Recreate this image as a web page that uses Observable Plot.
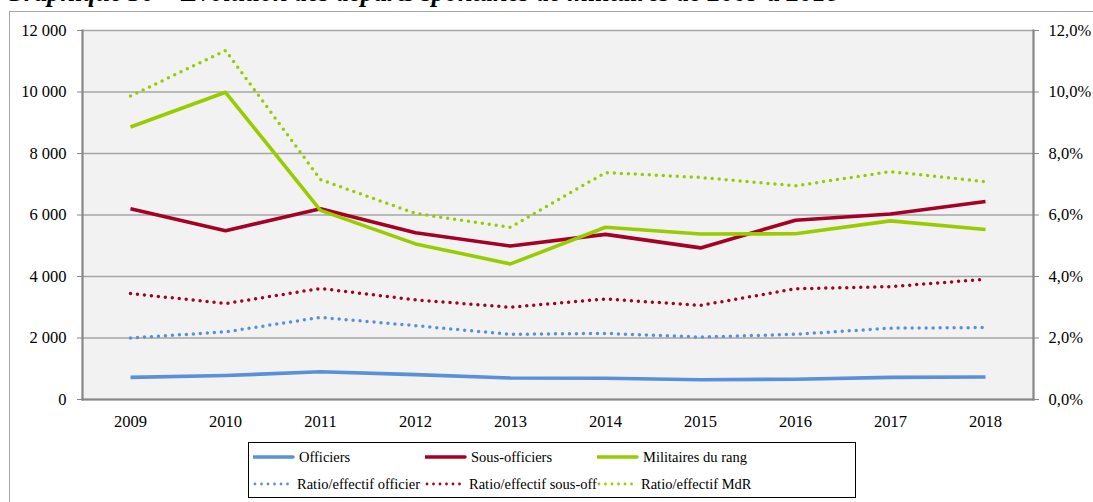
<!DOCTYPE html>
<html>
<head>
<meta charset="utf-8">
<script src="https://cdn.jsdelivr.net/npm/d3@7"></script>
<script src="https://cdn.jsdelivr.net/npm/@observablehq/plot@0.6"></script>
<style>
  html, body { margin: 0; padding: 0; background: #fff; overflow: hidden; }
  #wrap { position: relative; width: 1093px; height: 502px; overflow: hidden; font-family: "Liberation Serif", "Times New Roman", serif; }
  #outer { position: absolute; left: 9px; top: 11px; width: 1200px; height: 600px; border-left: 1.5px solid #a6a6a6; border-top: 1.5px solid #a6a6a6; }
  #title { position: absolute; left: 5px; top: -20px; font-size: 26.3px; font-weight: bold; font-style: italic; white-space: nowrap; line-height: 26px; z-index: 3; }
  #chart { position: absolute; left: 0; top: 0; z-index: 1; }
  #chart svg text { font-family: "Liberation Serif", "Times New Roman", serif; }
  #legend { position: absolute; left: 248px; top: 442px; width: 606px; height: 54px; border: 1px solid #000; background: #fff; z-index: 2; font-size: 14.5px; font-family: "Liberation Serif", "Times New Roman", serif; }
  .item { position: absolute; display: flex; align-items: center; white-space: nowrap; }
  .item svg { margin-right: 4px; }
</style>
</head>
<body>
<div id="wrap">
  <div id="outer"></div>
  <div id="title">Graphique 30 – Évolution des départs spontanés de militaires de 2009 à 2018</div>
  <div id="chart"></div>
  <div id="legend"></div>
</div>
<script>
const years = ["2009","2010","2011","2012","2013","2014","2015","2016","2017","2018"];
const officiers      = [720, 780, 900, 810, 700, 690, 640, 660, 720, 730];
const sousOfficiers  = [6200, 5490, 6200, 5420, 4990, 5370, 4930, 5830, 6030, 6440];
const militairesRang = [8860, 9990, 6150, 5060, 4410, 5600, 5380, 5390, 5810, 5530];
const ratioOfficier  = [2.00, 2.20, 2.67, 2.40, 2.12, 2.15, 2.03, 2.12, 2.32, 2.34];
const ratioSousOff   = [3.45, 3.12, 3.61, 3.24, 3.00, 3.27, 3.06, 3.60, 3.67, 3.91];
const ratioMdR       = [9.87, 11.35, 7.15, 6.05, 5.60, 7.38, 7.22, 6.95, 7.41, 7.08];
const leftTicks = [0, 2000, 4000, 6000, 8000, 10000, 12000];
const rightTicks = [0, 2, 4, 6, 8, 10, 12];

const series = [
  {name: "Officiers", values: officiers, color: "#5891d9", dotted: false, ratio: false},
  {name: "Sous-officiers", values: sousOfficiers, color: "#a50026", dotted: false, ratio: false},
  {name: "Militaires du rang", values: militairesRang, color: "#99cc00", dotted: false, ratio: false},
  {name: "Ratio/effectif officier", values: ratioOfficier, color: "#5891d9", dotted: true, ratio: true},
  {name: "Ratio/effectif sous-off", values: ratioSousOff, color: "#a50026", dotted: true, ratio: true},
  {name: "Ratio/effectif MdR", values: ratioMdR, color: "#99cc00", dotted: true, ratio: true}
];

// right axis (0–12 %) shares the left scale: 1 % ↔ 1000
const ratioToLeft = 1000;
const fr = d3.formatLocale({decimal: ",", thousands: "\u00a0", grouping: [3], currency: ["", "€"]});
const fmtLeft = fr.format(",.0f");
const fmtRight = d => fr.format(".1f")(d / ratioToLeft) + "%";

const rows = series.map(s => s.values.map((v, i) => ({year: years[i], v: s.ratio ? v * ratioToLeft : v})));

const lineMarks = [];
[3,4,5,0,1,2].forEach(k => {
  const s = series[k];
  lineMarks.push(Plot.lineY(rows[k], {
    x: "year", y: "v", stroke: s.color,
    strokeWidth: s.dotted ? 3.5 : 3.6,
    strokeDasharray: s.dotted ? "0 7" : null,
    strokeLinecap: s.dotted ? "round" : "butt",
    strokeLinejoin: "round"
  }));
});

const chart = Plot.plot({
  width: 1093,
  height: 440,
  marginLeft: 82,
  marginRight: 60,
  marginTop: 30,
  marginBottom: 41,
  style: {fontFamily: "'Liberation Serif', 'Times New Roman', serif", fontSize: "16.5px", color: "#000", background: "transparent"},
  x: {type: "point", domain: years, padding: 0.5, axis: null, label: null},
  y: {domain: [0, 12000], axis: null, label: null},
  marks: [
    Plot.frame({fill: "#f2f2f2", stroke: null}),
    Plot.ruleY(leftTicks, {stroke: "#a6a6a6", strokeWidth: 1.5}),
    Plot.frame({anchor: "left", stroke: "#868686", strokeWidth: 2.2}),
    Plot.frame({anchor: "right", stroke: "#868686", strokeWidth: 2.2}),
    Plot.frame({anchor: "bottom", stroke: "#868686", strokeWidth: 2.2}),
    Plot.axisY(leftTicks, {anchor: "left", label: null, tickSize: 5, tickPadding: 11, tickFormat: fmtLeft, stroke: "#868686", fill: "#000"}),
    Plot.axisY(rightTicks.map(t => t * ratioToLeft), {anchor: "right", label: null, tickSize: 5, tickPadding: 10, tickFormat: fmtRight, stroke: "#868686", fill: "#000"}),
    Plot.axisX({anchor: "bottom", label: null, tickSize: 0, tickPadding: 16, fill: "#000"}),
    ...lineMarks
  ]
});
document.getElementById("chart").appendChild(chart);

// legend
const legend = document.getElementById("legend");
const cols = [4, 176, 348];
const rowsY = [14, 41];
series.forEach((s, i) => {
  const col = i % 3, row = Math.floor(i / 3);
  const div = document.createElement("div");
  div.className = "item";
  div.style.left = cols[col] + "px";
  div.style.top = (rowsY[row] - 9) + "px";
  div.style.height = "18px";
  const w = s.dotted ? 38 : 40;
  const sw = d3.create("svg").attr("width", w + 2).attr("height", 10);
  sw.append("line").attr("x1", s.dotted ? 2 : 0).attr("x2", w).attr("y1", 5).attr("y2", 5)
    .attr("stroke", s.color).attr("stroke-width", s.dotted ? 2.8 : 3.5)
    .attr("stroke-dasharray", s.dotted ? "0 6.5" : null)
    .attr("stroke-linecap", "round");
  div.appendChild(sw.node());
  const t = document.createElement("span");
  t.textContent = s.name;
  div.appendChild(t);
  legend.appendChild(div);
});
</script>
</body>
</html>
